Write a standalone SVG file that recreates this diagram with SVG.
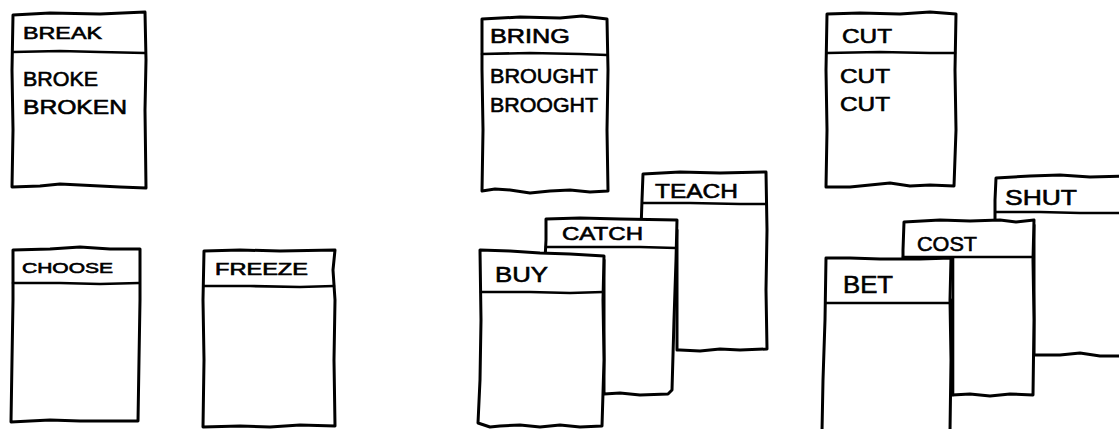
<svg xmlns="http://www.w3.org/2000/svg" width="1119" height="429" viewBox="0 0 1119 429">
<style>
.card{fill:#fff;stroke:#000;stroke-width:3;stroke-linejoin:round;stroke-linecap:round}
.ln{fill:none;stroke:#000;stroke-width:2.6;stroke-linecap:round;stroke-linejoin:round}
.t{font-family:"Liberation Sans",Arial,sans-serif;fill:#000;stroke:#000;stroke-width:0.6}
</style>
<rect width="1119" height="429" fill="#fff"/>
<g id="connectors"/>

<g id="break">
<path class="card" d="M13,15 L50,13 L100,14 L145,12 L146,60 L145,110 L146,188 L120,187 L100,186 L80,185 L60,184 L40,186 L12,187 L13,130 L12,70 Z"/>
<path class="ln" d="M13,52 L60,51 L100,52 L145,53"/>
<text class="t" x="23" y="39" font-size="17" textLength="79" lengthAdjust="spacingAndGlyphs">BREAK</text>
<text class="t" x="23" y="86" font-size="20" textLength="75" lengthAdjust="spacingAndGlyphs">BROKE</text>
<text class="t" x="23" y="114" font-size="20" textLength="104" lengthAdjust="spacingAndGlyphs">BROKEN</text>
</g>

<g id="bring">
<path class="card" d="M482,19 L520,17 L560,18 L582,16 L607,19 L608,70 L607,130 L608,191 L590,192 L570,190 L550,191 L530,193 L510,190 L495,189 L482,191 L483,130 L482,70 Z"/>
<path class="ln" d="M482,54 L530,53 L580,54 L607,55"/>
<text class="t" x="490" y="43" font-size="20" textLength="80" lengthAdjust="spacingAndGlyphs">BRING</text>
<text class="t" x="490" y="83" font-size="20" textLength="108" lengthAdjust="spacingAndGlyphs">BROUGHT</text>
<text class="t" x="490" y="112" font-size="20" textLength="108" lengthAdjust="spacingAndGlyphs">BROOGHT</text>
</g>

<g id="cut">
<path class="card" d="M827,14 L860,13 L900,14 L930,12 L956,14 L955,70 L956,130 L954,186 L930,185 L910,186 L890,183 L870,185 L850,187 L826,187 L827,130 L826,70 Z"/>
<path class="ln" d="M827,53 L880,52 L930,53 L955,53"/>
<text class="t" x="842" y="43" font-size="20" textLength="50" lengthAdjust="spacingAndGlyphs">CUT</text>
<text class="t" x="840" y="83" font-size="20" textLength="50" lengthAdjust="spacingAndGlyphs">CUT</text>
<text class="t" x="840" y="111" font-size="20" textLength="50" lengthAdjust="spacingAndGlyphs">CUT</text>
</g>

<g id="choose">
<path class="card" d="M13,250 L50,249 L80,247 L110,249 L140,249 L140,300 L139,360 L138,421 L110,421 L80,421 L50,420 L30,421 L11,422 L12,360 L13,300 Z"/>
<path class="ln" d="M13,283 L60,283 L100,284 L139,283"/>
<text class="t" x="22" y="273" font-size="15" textLength="91" lengthAdjust="spacingAndGlyphs">CHOOSE</text>
</g>

<g id="freeze">
<path class="card" d="M204,251 L240,250 L280,251 L335,250 L333,270 L335,300 L334,360 L335,426 L300,425 L270,427 L240,426 L203,427 L204,360 L203,300 Z"/>
<path class="ln" d="M204,286 L250,286 L300,287 L334,286"/>
<text class="t" x="215" y="275" font-size="16" textLength="93" lengthAdjust="spacingAndGlyphs">FREEZE</text>
</g>

<g id="teach">
<path class="card" d="M643,174 L680,172 L720,173 L766,172 L767,230 L766,290 L767,349 L740,350 L720,349 L700,351 L680,350 L677,350 L677,230 L641,230 L642,200 Z"/>
<path class="ln" d="M643,203 L690,203 L740,204 L766,204"/>
<text class="t" x="655" y="198" font-size="20" textLength="83" lengthAdjust="spacingAndGlyphs">TEACH</text>
</g>

<g id="catch">
<path class="card" d="M546,219 L580,218 L620,219 L677,220 L676,260 L674,320 L672,390 L668,394 L640,395 L620,393 L604,394 L604,260 L545,260 L546,240 Z"/>
<path class="ln" d="M546,247 L590,247 L640,247 L676,248"/>
<text class="t" x="562" y="240" font-size="19" textLength="81" lengthAdjust="spacingAndGlyphs">CATCH</text>
</g>

<g id="buy">
<path class="card" d="M480,250 L510,251 L540,253 L570,254 L604,256 L603,300 L604,360 L602,426 L580,427 L560,425 L540,427 L520,425 L500,426 L490,427 L478,423 L480,380 L481,320 Z"/>
<path class="ln" d="M481,292 L530,292 L570,293 L603,292"/>
<text class="t" x="495" y="282" font-size="22" textLength="53" lengthAdjust="spacingAndGlyphs">BUY</text>
</g>

<g id="shut">
<path class="card" d="M996,178 L1030,176 L1060,175 L1090,177 L1125,176 L1125,356 L1100,356 L1080,353 L1060,355 L1034,355 L1034,225 L995,225 L995,200 Z"/>
<path class="ln" d="M996,212 L1040,212 L1080,213 L1125,213"/>
<text class="t" x="1005" y="205" font-size="22" textLength="72" lengthAdjust="spacingAndGlyphs">SHUT</text>
</g>

<g id="cost">
<path class="card" d="M904,222 L940,220 L970,221 L1000,220 L1016,222 L1034,220 L1033,260 L1034,320 L1033,395 L1010,394 L990,396 L970,394 L952,395 L951,300 L903,300 L903,250 Z"/>
<path class="ln" d="M903,257 L940,257 L990,257 L1033,257"/>
<path class="ln" d="M953,258 L953,395"/>
<text class="t" x="917" y="251" font-size="21" textLength="60" lengthAdjust="spacingAndGlyphs">COST</text>
</g>

<g id="bet">
<path class="card" d="M826,258 L850,258 L880,259 L920,259 L951,258 L950,300 L951,360 L950,432 L822,432 L823,380 L825,320 Z"/>
<path class="ln" d="M826,303 L870,303 L910,303 L950,303"/>
<text class="t" x="843" y="293" font-size="24" textLength="50" lengthAdjust="spacingAndGlyphs">BET</text>
</g>
</svg>
